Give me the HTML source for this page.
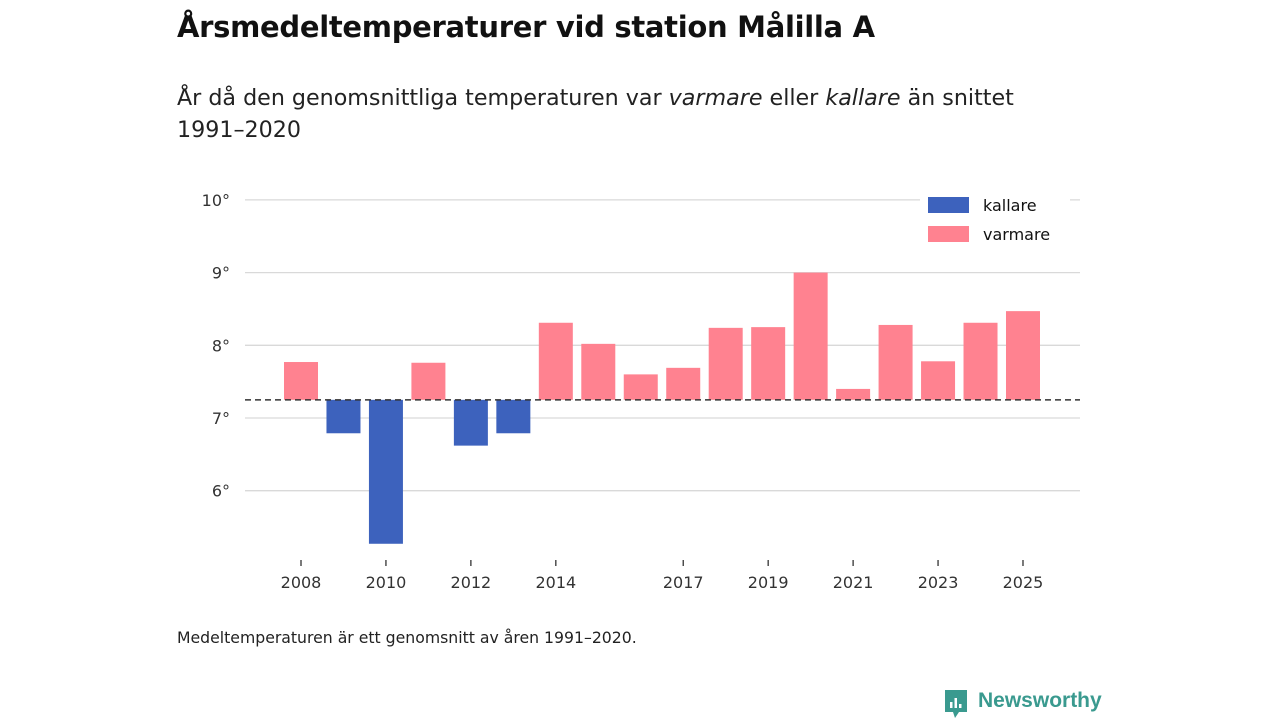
<!DOCTYPE html>
<html><head><meta charset="utf-8"><style>
body{margin:0;width:1280px;height:720px;background:#fff;font-family:"DejaVu Sans",sans-serif;color:#111;overflow:hidden;position:relative}
.t{position:absolute;white-space:nowrap}
</style></head><body>
<div class="t" style="left:177px;top:10px;font-size:29px;font-weight:bold;letter-spacing:-0.3px">Årsmedeltemperaturer vid station Målilla A</div>
<div class="t" style="left:177px;top:82px;font-size:22.2px;line-height:32px;color:#222">År då den genomsnittliga temperaturen var <i>varmare</i> eller <i>kallare</i> än snittet<br>1991–2020</div>
<svg id="chart" width="1280" height="720" style="position:absolute;left:0;top:0" xmlns="http://www.w3.org/2000/svg"></svg>
<div class="t" style="left:177px;top:628px;font-size:15.7px;color:#222">Medeltemperaturen är ett genomsnitt av åren 1991–2020.</div>
<div style="position:absolute;left:943px;top:689px;">
<svg width="26" height="31" style="position:absolute;left:0;top:0"><path d="M2 1h22v22h-8l-4 6-2-6H2z" fill="#3a9a8f"/><rect x="7" y="13" width="2.5" height="6" fill="#fff"/><rect x="11.5" y="9" width="2.5" height="10" fill="#fff"/><rect x="16" y="15" width="2.5" height="4" fill="#fff"/></svg>
<div class="t" style="left:35px;top:0px;font-size:21px;font-weight:bold;color:#3a9a8f;font-family:'Liberation Sans',sans-serif">Newsworthy</div>
</div>
<script>
const years=[2008,2009,2010,2011,2012,2013,2014,2015,2016,2017,2018,2019,2020,2021,2022,2023,2024,2025];
const temps=[7.77,6.79,5.27,7.76,6.62,6.79,8.31,8.02,7.6,7.69,8.24,8.25,9.0,7.4,8.28,7.78,8.31,8.47];
const baseline=7.25;
const yTicks=[6,7,8,9,10];
const xTickYears=[2008,2010,2012,2014,2017,2019,2021,2023,2025];
const svg=document.getElementById('chart');
const NS='http://www.w3.org/2000/svg';
const FONT='DejaVu Sans';
const y=v=>418-(v-7)*72.7;
const x=yr=>301+(yr-2008)*42.47;
function mk(tag,attrs){const e=document.createElementNS(NS,tag);for(const k in attrs)e.setAttribute(k,attrs[k]);svg.appendChild(e);return e;}
yTicks.forEach(v=>{
 const l=mk('line',{x1:245,x2:1080,y1:y(v),y2:y(v),stroke:'#d9d9d9','stroke-width':1.3});
 
 
 const t=mk('text',{x:230,y:y(v)+6,'text-anchor':'end','font-size':16,fill:'#333','font-family':FONT});
 t.textContent=v+'°';
 
 
});
years.forEach((yr,i)=>{
 const v=temps[i];const top=Math.min(y(v),y(baseline));const h=Math.abs(y(v)-y(baseline));
 const r=mk('rect',{x:x(yr)-17,y:top,width:34,height:h,fill:v>=baseline?'#ff8290':'#3d62bd'});
 
 
});
const bl=mk('line',{x1:245,x2:1080,y1:y(baseline),y2:y(baseline),stroke:'#333','stroke-width':1.5,'stroke-dasharray':'6,4'});


xTickYears.forEach(yr=>{
 const l=mk('line',{x1:x(yr),x2:x(yr),y1:560,y2:566,stroke:'#333','stroke-width':1.3});
 
 
 const t=mk('text',{x:x(yr),y:588,'text-anchor':'middle','font-size':16,fill:'#333','font-family':FONT});
 t.textContent=yr;
 
 
});
const lg=mk('rect',{x:920,y:190,width:150,height:62,fill:'#fff'});


[['kallare','#3d62bd',197],['varmare','#ff8290',226]].forEach(([n,c,yy])=>{
 const r=mk('rect',{x:928,y:yy,width:41,height:16,fill:c});
 
 
 const t=mk('text',{x:983,y:yy+14,'font-size':16,fill:'#111','font-family':FONT});
 t.textContent=n;
 
 
});
</script>
</body></html>
